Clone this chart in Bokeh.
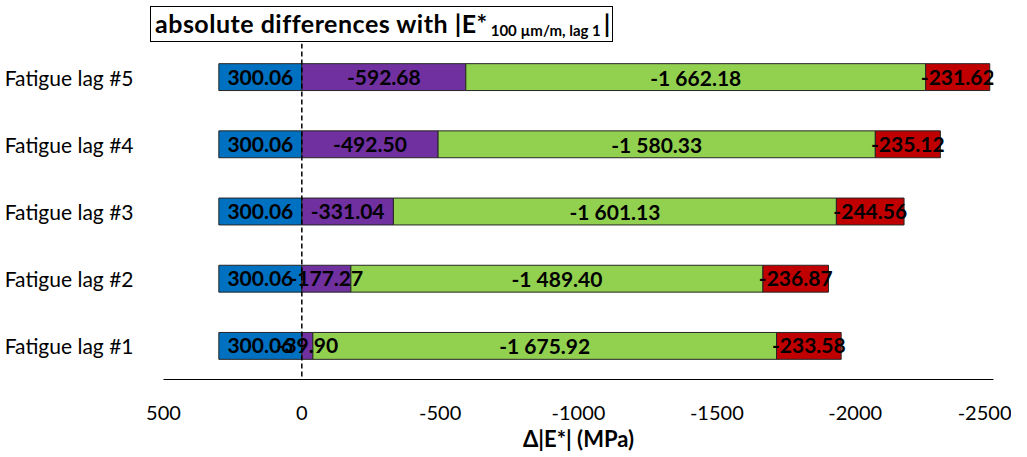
import numpy as np
from bokeh.plotting import figure
from bokeh.layouts import column
from bokeh.models import Range1d, FactorRange, FixedTicker, Span, Div
from bokeh.core.properties import value
from bokeh.embed import file_html
from bokeh.resources import INLINE

categories = ["Fatigue lag #1", "Fatigue lag #2", "Fatigue lag #3", "Fatigue lag #4", "Fatigue lag #5"]
blue_vals = [300.06, 300.06, 300.06, 300.06, 300.06]
purple_vals = [-39.90, -177.27, -331.04, -492.50, -592.68]
green_vals = [-1675.92, -1489.40, -1601.13, -1580.33, -1662.18]
red_vals = [-233.58, -236.87, -244.56, -235.12, -231.62]
x_ticks = [500, 0, -500, -1000, -1500, -2000, -2500]
title_main = "absolute differences with |E*"
title_sub = "100 µm/m, lag 1"
title_end = "|"

FONT = "Lato"
W = 1011
TOP = 43

# ---- boxed title (HTML text with a real subscript) ----
title_html = (
    '<div style="display:inline-block; margin-left:150px; margin-top:6px; height:36px; '
    'width:463px; box-sizing:border-box; border:1.2px solid black; background:white; '
    'padding-left:4px; font-family:Lato; font-weight:bold; font-size:25px; letter-spacing:0.5px; '
    'line-height:32px; color:black; white-space:nowrap; overflow:hidden;">'
    f'{title_main}<sub style="font-size:15px; letter-spacing:0px; vertical-align:-3px; margin-left:3px;">{title_sub}</sub>'
    f'<span style="margin-left:3px;">{title_end}</span>'
    '</div>'
)
t = Div(text=title_html, width=W, height=TOP, margin=0)

# ---- main chart ----
p = figure(width=W, height=411, output_backend="svg", toolbar_location=None,
           x_range=Range1d(500, -2500), y_range=FactorRange(factors=categories),
           min_border_left=163, min_border_right=18, min_border_top=0, min_border_bottom=74)
p.outline_line_color = None
p.xgrid.grid_line_color = None
p.ygrid.grid_line_color = None
p.background_fill_color = "white"

def fmt(v):
    return f"{v:,.2f}".replace(",", " ")

b = np.array(blue_vals)
pu = np.array(purple_vals)
g = np.array(green_vals)
r = np.array(red_vals)

segments = [
    (np.zeros(5), b, "#0070C0", b),
    (np.zeros(5), pu, "#7030A0", pu),
    (pu, pu + g, "#92D050", g),
    (pu + g, pu + g + r, "#C00000", r),
]
for left, right, color, vals in segments:
    p.hbar(y=categories, left=left, right=right, height=0.4, fill_color=color,
           line_color="#262626", line_width=1)
for left, right, color, vals in segments:
    p.text(x=(left + right) / 2, y=categories, text=[fmt(v) for v in vals],
           text_align="center", text_baseline="middle", text_font=value(FONT),
           text_font_size="21px", text_font_style="bold", text_color="black")

p.add_layout(Span(location=0, dimension="height", line_color="black", line_dash="5 3", line_width=1.5))

xa = p.xaxis[0]
xa.ticker = FixedTicker(ticks=x_ticks)
xa.major_label_overrides = {tk: str(tk) for tk in x_ticks}
xa.major_tick_line_color = None
xa.minor_tick_line_color = None
xa.axis_line_color = "black"
xa.axis_line_width = 1.2
xa.major_label_text_font = FONT
xa.major_label_text_font_size = "20px"
xa.major_label_text_color = "black"
xa.major_label_standoff = 20
xa.axis_label = "Δ|E*| (MPa)"
xa.axis_label_text_font = FONT
xa.axis_label_text_font_size = "22px"
xa.axis_label_text_font_style = "bold"
xa.axis_label_text_color = "black"
xa.axis_label_standoff = 2

ya = p.yaxis[0]
ya.axis_line_color = None
ya.major_tick_line_color = None
ya.minor_tick_line_color = None
ya.major_label_text_font = FONT
ya.major_label_text_font_size = "21px"
ya.major_label_text_color = "black"
ya.major_label_standoff = 24

layout = column(t, p, spacing=0)
open("out.html", "w").write(file_html(layout, INLINE))
